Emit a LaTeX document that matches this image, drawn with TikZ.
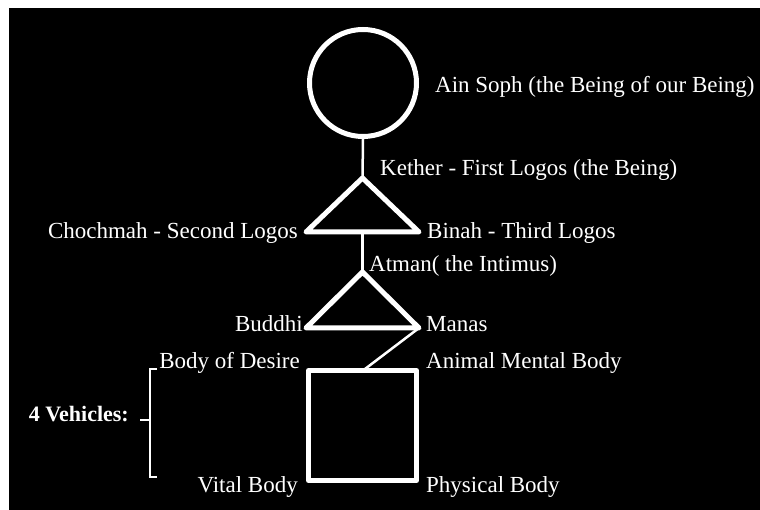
\documentclass[tikz,border=0pt]{standalone}
\usepackage{fontspec}
\setmainfont{Liberation Serif}
\begin{document}
\begin{tikzpicture}[x=1pt,y=-1pt,
  lbl/.style={text=white,inner sep=0pt,font=\fontsize{23}{27}\selectfont},
  shapeline/.style={draw=white,line width=5pt,line join=round},
  thinline/.style={draw=white,line width=2.5pt},
]
\useasboundingbox (0,0) rectangle (760,510);
\fill[white] (0,0) rectangle (760,510);
\fill[black] (9,8) rectangle (760,510);

% Ain Soph circle
\node[circle,shapeline,minimum size=107pt,inner sep=0pt] (ain) at (363,83) {};

% first triangle
\coordinate (kether) at (362.5,178);
\coordinate (chochmah) at (306,232);
\coordinate (binah) at (419,232);
\coordinate (base1) at (362.5,232);
% second triangle
\coordinate (atman) at (362.5,272);
\coordinate (buddhi) at (306,328);
\coordinate (manas) at (419,328);
% square
\coordinate (desire) at (308.5,370.5);
\coordinate (animal) at (416.5,370.5);
\coordinate (physical) at (416.5,480.5);
\coordinate (vital) at (308.5,480.5);
\coordinate (sqtop) at (363,370.5);

\draw[thinline] (ain.south) -- (kether);
\draw[shapeline] (kether) -- (chochmah) -- (binah) -- cycle;
\draw[thinline] (base1) -- (atman);
\draw[shapeline] (atman) -- (buddhi) -- (manas) -- cycle;
\draw[thinline] (manas) -- (sqtop);
\draw[shapeline] (desire) -- (animal) -- (physical) -- (vital) -- cycle;

% bracket
\coordinate (brtopin) at (157,369);
\coordinate (brtop) at (150,369);
\coordinate (brbot) at (150,477);
\coordinate (brbotin) at (157,477);
\coordinate (brmid) at (150,420);
\coordinate (brmidout) at (140,420);
\draw[thinline,line join=miter] (brtopin) -- (brtop) -- (brbot) -- (brbotin);
\draw[thinline] (brmid) -- (brmidout);

% labels
\node[lbl,anchor=base west] (tAin) at (435,93) {Ain Soph (the Being of our Being)};
\node[lbl,anchor=base west] (tKether) at (380,176) {Kether - First Logos (the Being)};
\node[lbl,anchor=base east] (tChochmah) at (298,239) {Chochmah - Second Logos};
\node[lbl,anchor=base west] (tBinah) at (427,239) {Binah - Third Logos};
\node[lbl,anchor=base west] (tAtman) at (369,272) {Atman( the Intimus)};
\node[lbl,anchor=base east] (tBuddhi) at (303,332) {Buddhi};
\node[lbl,anchor=base west] (tManas) at (426,332) {Manas};
\node[lbl,anchor=base east] (tDesire) at (300,368) {Body of Desire};
\node[lbl,anchor=base west] (tAnimal) at (426,368) {Animal Mental Body};
\node[lbl,anchor=base east,font=\fontsize{22}{26}\selectfont\bfseries] (tVehicles) at (129,421) {4 Vehicles:};
\node[lbl,anchor=base east] (tVital) at (298,492) {Vital Body};
\node[lbl,anchor=base west] (tPhysical) at (426,492) {Physical Body};
\end{tikzpicture}
\end{document}
